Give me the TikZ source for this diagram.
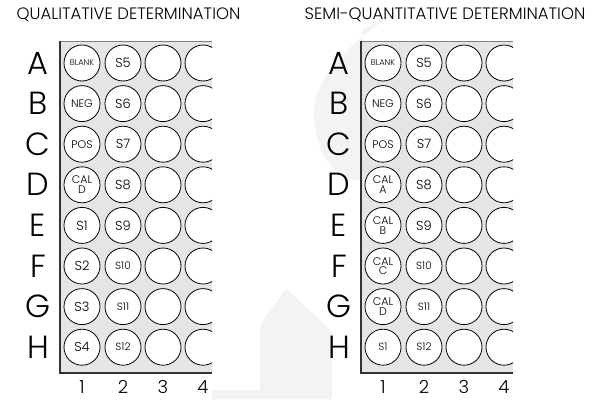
\documentclass[tikz,border=0pt]{standalone}
\usepackage{fontspec}
\setmainfont{Poppins}[UprightFont={* Light}]
\begin{document}
\begin{tikzpicture}[x=1pt,y=-1pt,
  plate/.style={fill=plategray,draw=none},
  well/.style={circle,draw=black,line width=0.8pt,fill=white,minimum size=36pt,inner sep=0pt,align=center,font=\fontsize{13}{13}\selectfont},
  small/.style={font=\fontsize{10.5}{10.5}\selectfont},
  mid/.style={font=\fontsize{11}{11}\selectfont},
  tiny/.style={font=\fontsize{8.3}{8.3}\selectfont},
  two/.style={font=\fontsize{11}{9.5}\selectfont},
  rowlab/.style={font=\fontsize{32}{32}\selectfont,anchor=center},
  collab/.style={font=\fontsize{18}{18}\selectfont,anchor=center},
  title/.style={font=\fontsize{16.5}{16.5}\selectfont,anchor=center},
  ]
\definecolor{plategray}{HTML}{E5E5E5}
\definecolor{wmark}{HTML}{F3F3F3}
\useasboundingbox (0,0) rectangle (594,399);
% watermark
\fill[wmark] (400,10) .. controls (350,40) and (312,80) .. (314,115) .. controls (316,160) and (340,182) .. (362,180) -- (362,30) -- cycle;
\fill[wmark] (212,390) -- (260,390) -- (260,325) -- (286,288) -- (332,332) -- (332,399) -- (212,399) -- cycle;
% titles
\node[title] (t1) at (128.5,15) {QUALITATIVE DETERMINATION};
\node[title] (t2) at (445,15) {SEMI-QUANTITATIVE DETERMINATION};
\foreach \ox/\p in {0/L,301/R}{
  \fill[plate] (60+\ox,41) rectangle (212+\ox,373);
  \draw[gray,line width=0.6pt] (60+\ox,41) -- (212+\ox,41);
  \draw[black!80,line width=1.2pt] (60+\ox,41) -- (60+\ox,373) -- (212+\ox,373);
  \foreach \r [count=\i from 0] in {A,B,C,D,E,F,G,H}{
    \node[rowlab] (\p-\r) at (38+\ox,63+40.6*\i) {\r};
  }
  \foreach \c/\x in {1/82,2/123,3/163,4/203}{
    \node[collab] (\p-c\c) at (\x+\ox,387) {\c};
  }
}
\begin{scope}
\clip (60,41) rectangle (212,373);
\node[well,tiny] (L-A1) at (82,63) {BLANK};
\node[well,mid] (L-B1) at (82,103.6) {NEG};
\node[well,mid] (L-C1) at (82,144.2) {POS};
\node[well,two] (L-D1) at (82,184.8) {CAL\\D};
\node[well] (L-E1) at (82,225.4) {S1};
\node[well] (L-F1) at (82,266) {S2};
\node[well] (L-G1) at (82,306.6) {S3};
\node[well] (L-H1) at (82,347.2) {S4};
\node[well] (L-A2) at (123,63) {S5};
\node[well] (L-B2) at (123,103.6) {S6};
\node[well] (L-C2) at (123,144.2) {S7};
\node[well] (L-D2) at (123,184.8) {S8};
\node[well] (L-E2) at (123,225.4) {S9};
\node[well,small] (L-F2) at (123,266) {S10};
\node[well,small] (L-G2) at (123,306.6) {S11};
\node[well,small] (L-H2) at (123,347.2) {S12};
\foreach \r [count=\i from 0] in {A,B,C,D,E,F,G,H}{
  \node[well] (L-\r3) at (163,63+40.6*\i) {};
  \node[well] (L-\r4) at (203,63+40.6*\i) {};
}
\end{scope}
\begin{scope}
\clip (361,41) rectangle (513,373);
\node[well,tiny] (R-A1) at (383,63) {BLANK};
\node[well,mid] (R-B1) at (383,103.6) {NEG};
\node[well,mid] (R-C1) at (383,144.2) {POS};
\node[well,two] (R-D1) at (383,184.8) {CAL\\A};
\node[well,two] (R-E1) at (383,225.4) {CAL\\B};
\node[well,two] (R-F1) at (383,266) {CAL\\C};
\node[well,two] (R-G1) at (383,306.6) {CAL\\D};
\node[well,small] (R-H1) at (383,347.2) {S1};
\node[well] (R-A2) at (424,63) {S5};
\node[well] (R-B2) at (424,103.6) {S6};
\node[well] (R-C2) at (424,144.2) {S7};
\node[well] (R-D2) at (424,184.8) {S8};
\node[well] (R-E2) at (424,225.4) {S9};
\node[well,small] (R-F2) at (424,266) {S10};
\node[well,small] (R-G2) at (424,306.6) {S11};
\node[well,small] (R-H2) at (424,347.2) {S12};
\foreach \r [count=\i from 0] in {A,B,C,D,E,F,G,H}{
  \node[well] (R-\r3) at (464,63+40.6*\i) {};
  \node[well] (R-\r4) at (504,63+40.6*\i) {};
}
\end{scope}
\end{tikzpicture}
\end{document}
